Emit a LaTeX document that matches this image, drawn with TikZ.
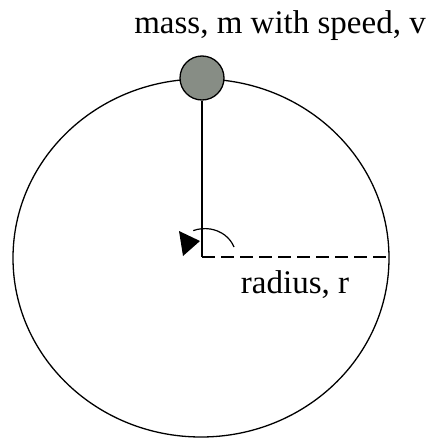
\documentclass[tikz,border=0pt]{standalone}
\usepackage{fontspec}
\setmainfont{Liberation Serif}
\usepackage{xcolor}
\usepackage{tikz}
\usetikzlibrary{arrows.meta,positioning,calc}
\definecolor{massgray}{HTML}{878D85}
\tikzset{
  orbit/.style={draw=black, line width=1.3pt},
  massball/.style={circle, draw=black, line width=1.3pt, fill=massgray, minimum size=44pt, inner sep=0pt},
  lbl/.style={font=\fontsize{33}{38}\selectfont, anchor=base, inner sep=0pt},
  rod/.style={line width=1.6pt},
  radline/.style={line width=1.6pt, dash pattern=on 13pt off 6pt},
}

\begin{document}
\begin{tikzpicture}[x=1pt, y=-1pt]
    \useasboundingbox (0,0) rectangle (436,439);
    \coordinate (o) at (202,257);
    \coordinate (rim) at (389,257);
    \draw[orbit] (201,258) ellipse [x radius=188pt, y radius=179pt];
    \node[massball] (m) at (202,78) {};
    \node[lbl] (top) at (280,33) {mass, m with speed, v};
    \node[lbl] (rad) at (295,293) {radius, r};
    \draw[rod] (m.south) -- (o);
    \draw[radline] (o) -- (rim);
    % angle sweep
    \draw[line width=1.2pt] (234,247) arc [start angle=20, end angle=112, x radius=31pt, y radius=28pt];
    \fill (179,231) -- (200,241) -- (183,256) -- cycle;
  \end{tikzpicture}
\end{document}
